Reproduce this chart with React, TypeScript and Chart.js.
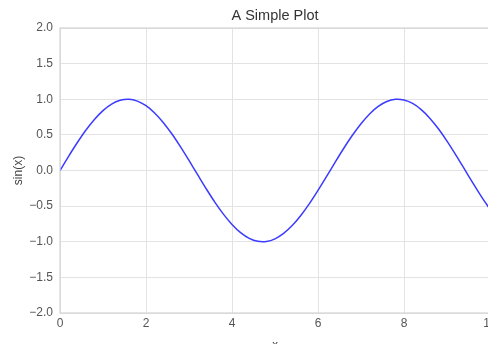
import React, { useEffect, useRef } from "react";
import { Chart, registerables } from "chart.js";

Chart.register(...registerables);

const xValues = [
  0, 0.2, 0.4, 0.6, 0.8, 1.0, 1.2, 1.4, 1.6, 1.8, 2.0, 2.2, 2.4, 2.6, 2.8, 3.0, 3.2, 3.4, 3.6, 3.8,
  4.0, 4.2, 4.4, 4.6, 4.8, 5.0, 5.2, 5.4, 5.6, 5.8, 6.0, 6.2, 6.4, 6.6, 6.8, 7.0, 7.2, 7.4, 7.6, 7.8,
  8.0, 8.2, 8.4, 8.6, 8.8, 9.0, 9.2, 9.4, 9.6, 9.8, 10.0,
];
const yValues = [
  0.0, 0.199, 0.389, 0.565, 0.717, 0.841, 0.932, 0.985, 1.0, 0.974, 0.909, 0.808, 0.675, 0.516, 0.335,
  0.141, -0.058, -0.256, -0.443, -0.612, -0.757, -0.872, -0.952, -0.994, -0.996, -0.959, -0.883, -0.773,
  -0.631, -0.465, -0.279, -0.083, 0.117, 0.312, 0.494, 0.657, 0.794, 0.899, 0.968, 0.999, 0.989, 0.941,
  0.855, 0.735, 0.585, 0.412, 0.223, 0.025, -0.174, -0.366, -0.544,
];
const xTicks = [0, 2, 4, 6, 8, 10];
const yTicks = [-2, -1.5, -1, -0.5, 0, 0.5, 1, 1.5, 2];
const titleText = "A Simple Plot";
const xLabel = "x";
const yLabel = "sin(x)";

const FONT = "'Liberation Sans', Arial, sans-serif";

const framePlugin = {
  id: "frame",
  afterDraw(chart: any) {
    const { ctx, chartArea } = chart;
    ctx.save();
    ctx.strokeStyle = "#d4d4d4";
    ctx.lineWidth = 1.2;
    ctx.strokeRect(chartArea.left, chartArea.top, chartArea.right - chartArea.left, chartArea.bottom - chartArea.top);
    ctx.fillStyle = "#333333";
    ctx.font = `14.5px ${FONT}`;
    ctx.textAlign = "center";
    ctx.textBaseline = "middle";
    ctx.fillText(titleText, (chartArea.left + chartArea.right) / 2, 16);
    ctx.restore();
  },
};

export default function App() {
  const ref = useRef<HTMLCanvasElement>(null);
  useEffect(() => {
    document.body.style.margin = "0";
    document.body.style.overflow = "hidden";
    const data = xValues.map((x, i) => ({ x, y: yValues[i] }));
    const chart = new Chart(ref.current!, {
      type: "scatter",
      data: {
        datasets: [
          {
            data,
            showLine: true,
            borderColor: "#3b3bff",
            borderWidth: 1.5,
            pointRadius: 0,
            tension: 0.3,
            fill: false,
          },
        ],
      },
      options: {
        responsive: false,
        animation: false,
        layout: { padding: { left: 0, right: 10, top: 28, bottom: 0 } },
        plugins: {
          legend: { display: false },
          tooltip: { enabled: false },
          title: { display: false },
        },
        scales: {
          x: {
            type: "linear",
            min: 0,
            max: 10,
            afterBuildTicks: (axis: any) => {
              axis.ticks = xTicks.map((v) => ({ value: v }));
            },
            afterFit: (axis: any) => {
              axis.height = 39;
            },
            ticks: {
              color: "#555555",
              font: { family: FONT, size: 12 },
              padding: 3,
              maxRotation: 0,
              callback: (v: any) => String(v),
            },
            grid: { color: "#e3e3e3", lineWidth: 1, drawTicks: false },
            border: { display: false },
            title: {
              display: true,
              text: xLabel,
              color: "#444444",
              font: { family: FONT, size: 11.5 },
              padding: { top: 1, bottom: 0 },
            },
          },
          y: {
            type: "linear",
            min: -2,
            max: 2,
            afterBuildTicks: (axis: any) => {
              axis.ticks = yTicks.map((v) => ({ value: v }));
            },
            afterFit: (axis: any) => {
              axis.width = 60;
            },
            ticks: {
              color: "#555555",
              font: { family: FONT, size: 12 },
              padding: 7,
              callback: (v: any) => Number(v).toFixed(1).replace("-", "\u2212"),
            },
            grid: { color: "#e3e3e3", lineWidth: 1, drawTicks: false },
            border: { display: false },
            title: {
              display: true,
              text: yLabel,
              color: "#444444",
              font: { family: FONT, size: 12 },
              padding: { top: 11, bottom: 0 },
            },
          },
        },
      },
      plugins: [framePlugin],
    });
    return () => chart.destroy();
  }, []);
  return <canvas ref={ref} width={500} height={352} style={{ display: "block" }} />;
}
